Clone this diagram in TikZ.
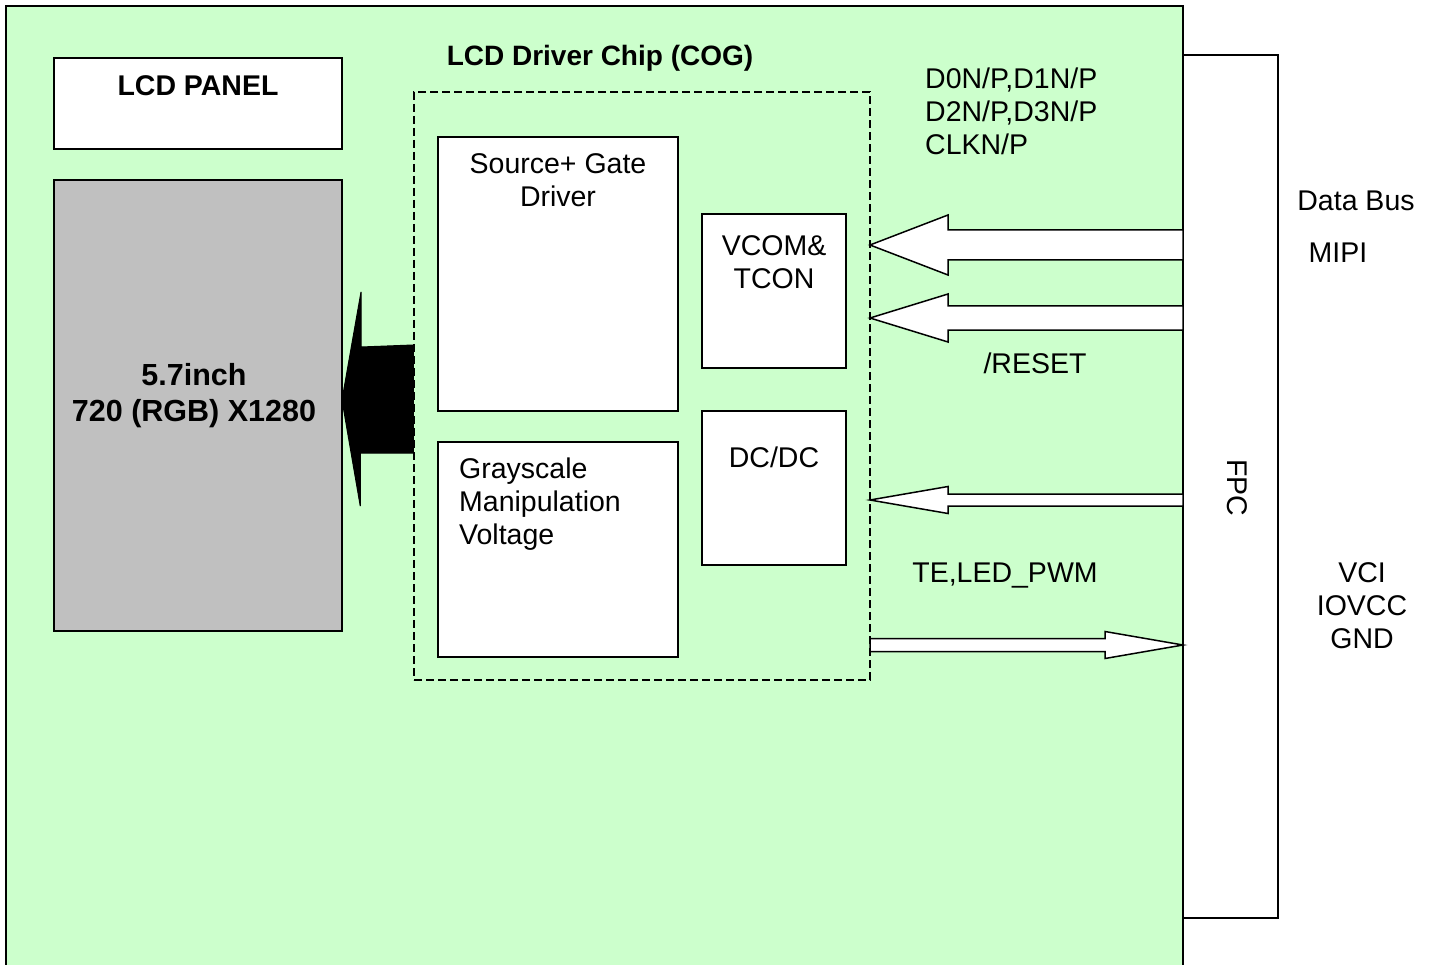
\documentclass[tikz,border=0pt]{standalone}
\usepackage{fontspec}
\setmainfont{Liberation Sans}
\definecolor{boardgreen}{HTML}{CCFFCC}
\definecolor{panelgray}{HTML}{C0C0C0}
\tikzset{
  box/.style={draw, line width=1.5pt, fill=white, inner sep=0pt, outer sep=0pt},
  lbl/.style={font=\fontsize{28.5}{33}\selectfont, inner sep=0pt},
  blk/.style={draw, line width=1.5pt, fill=white, line join=miter},
}
\begin{document}
\begin{tikzpicture}[x=1pt, y=-1pt]
\useasboundingbox (0,0) rectangle (1431,965);
% board and panel
\node[box, fill=boardgreen, minimum width=1177pt, minimum height=964pt] (board) at (594.5,488) {};
\node[box, minimum width=288pt, minimum height=91pt] (ptitle) at (198,103.5) {};
\node[box, fill=panelgray, minimum width=288pt, minimum height=451pt] (panel) at (198,405.5) {};
\node[lbl, font=\fontsize{28.5}{33}\selectfont\bfseries] (ptext) at (198,86) {LCD PANEL};
\node[lbl, font=\fontsize{30.5}{36}\selectfont\bfseries, align=center] (pres) at (194,396) {5.7inch\\720 (RGB) X1280};
% driver chip
\node[draw, line width=1.5pt, dash pattern=on 8pt off 4pt, minimum width=456pt, minimum height=588pt, inner sep=0pt] (chip) at (642,386) {};
\node[lbl, font=\fontsize{28}{33}\selectfont\bfseries] (ctitle) at (600,58) {LCD Driver Chip (COG)};
\node[box, minimum width=240pt, minimum height=274pt] (src) at (558,274) {};
\node[box, minimum width=240pt, minimum height=215pt] (gray) at (558,549.5) {};
\node[box, minimum width=144pt, minimum height=154pt] (vcom) at (774,291) {};
\node[box, minimum width=144pt, minimum height=154pt] (dcdc) at (774,488) {};
\node[lbl, align=center] (srct) at (558,180) {Source+ Gate\\Driver};
\node[lbl, align=left, anchor=west] (grayt) at (459,504) {Grayscale\\Manipulation\\Voltage};
\node[lbl, align=center] (vcomt) at (774,262) {VCOM\&\\TCON};
\node[lbl] (dcdct) at (774,457) {DC/DC};
% fpc
\node[box, minimum width=95pt, minimum height=863pt] (fpc) at (1230.5,486.5) {};
\node[lbl, rotate=-90] (fpct) at (1237,488) {FPC};
% signals
\node[lbl, align=left, anchor=west] (mipi) at (925,111) {D0N/P,D1N/P\\D2N/P,D3N/P\\CLKN/P};
\node[lbl] (rst) at (1035,363) {/RESET};
\node[lbl] (te) at (1005,576) {TE,LED\_PWM};
\node[lbl] (bus) at (1356,201) {Data Bus};
\node[lbl] (mipit) at (1338,253) {MIPI};
\node[lbl, align=center] (pwr) at (1362,606) {VCI\\IOVCC\\GND};
% block arrows
\coordinate (in1) at (870,245);
\coordinate (in2) at (870,318);
\coordinate (in3) at (870,500);
\coordinate (out1) at (1183,645);
\coordinate (drv) at (342,400);
\draw[blk] (in1) -- ++(78,-30) -- ++(0,15) -- ++(235,0) -- ++(0,30) -- ++(-235,0) -- ++(0,15) -- cycle;
\draw[blk] (in2) -- ++(78,-24) -- ++(0,12) -- ++(235,0) -- ++(0,24) -- ++(-235,0) -- ++(0,12) -- cycle;
\draw[blk] (in3) -- ++(78,-13.5) -- ++(0,7.5) -- ++(235,0) -- ++(0,12) -- ++(-235,0) -- ++(0,7.5) -- cycle;
\draw[blk] (out1) -- ++(-78,-13.5) -- ++(0,7) -- ++(-235,0) -- ++(0,13) -- ++(235,0) -- ++(0,7) -- cycle;
\draw[fill=black, line width=1pt] (drv) -- ++(19,-108) -- ++(0,55) -- (chip.west |- 0,345) -- (chip.west |- 0,453) -- ++(-53,0) -- ++(0,53) -- cycle;
\end{tikzpicture}
\end{document}
